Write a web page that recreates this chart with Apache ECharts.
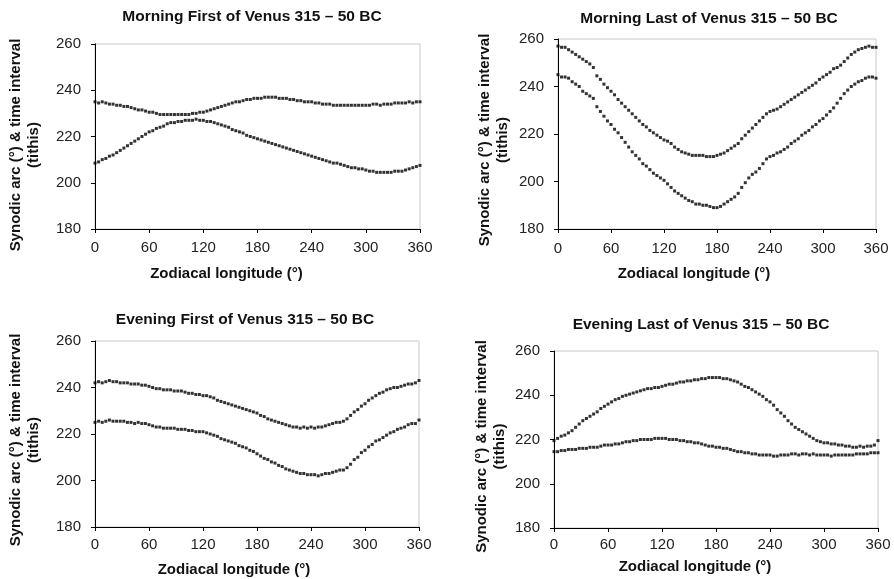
<!DOCTYPE html>
<html>
<head>
<meta charset="utf-8">
<script src="https://cdn.jsdelivr.net/npm/echarts@6/dist/echarts.min.js"></script>
<style>
  html, body { margin: 0; padding: 0; background: #fff; }
  #chart { width: 894px; height: 579px; }
</style>
</head>
<body>
<div id="chart"></div>
<script>
// Zodiacal longitude of each sample (degrees)
const longitude = [
  0, 4, 8, 12, 16, 20, 24, 28, 32, 36,
  40, 44, 48, 52, 56, 60, 64, 68, 72, 76,
  80, 84, 88, 92, 96, 100, 104, 108, 112, 116,
  120, 124, 128, 132, 136, 140, 144, 148, 152, 156,
  160, 164, 168, 172, 176, 180, 184, 188, 192, 196,
  200, 204, 208, 212, 216, 220, 224, 228, 232, 236,
  240, 244, 248, 252, 256, 260, 264, 268, 272, 276,
  280, 284, 288, 292, 296, 300, 304, 308, 312, 316,
  320, 324, 328, 332, 336, 340, 344, 348, 352, 356,
  360
];

// Morning First
const morningFirstUpper = [
  235, 234.5, 235, 234.5, 234, 234, 233.5, 233.5, 233, 233,
  232.5, 232, 231.5, 231.5, 231, 230.5, 230.5, 230, 229.5, 229.5,
  229.5, 229.5, 229.5, 229.5, 229.5, 229.5, 229.5, 230, 230, 230.5,
  230.5, 231, 231.5, 232, 232.5, 233, 233.5, 234, 234.5, 235,
  235, 235.5, 236, 236, 236.5, 236.5, 236.5, 237, 237, 237,
  237, 236.5, 236.5, 236.5, 236, 236, 235.5, 235.5, 235, 235,
  235, 234.5, 234.5, 234, 234, 234, 233.5, 233.5, 233.5, 233.5,
  233.5, 233.5, 233.5, 233.5, 233.5, 233.5, 233.5, 234, 234, 233.5,
  234, 234, 234, 234.5, 234.5, 234.5, 234.5, 235, 234.5, 235,
  235
];
const morningFirstLower = [
  208.5, 209, 210, 210.5, 211.5, 212, 213, 214, 215, 216,
  217, 218, 219, 220, 221, 222, 222.5, 223.5, 224, 224.5,
  225.5, 226, 226, 226.5, 226.5, 227, 227, 227, 227.5, 227,
  227, 226.5, 226.5, 226, 225.5, 225, 224.5, 224, 223, 222.5,
  222, 221.5, 220.5, 220, 219.5, 219, 218.5, 218, 217.5, 217,
  216.5, 216, 215.5, 215, 214.5, 214, 213.5, 213, 212.5, 212,
  211.5, 211, 210.5, 210, 209.5, 209, 208.5, 208.5, 208, 207.5,
  207, 206.5, 206.5, 206, 206, 205.5, 205, 205, 204.5, 204.5,
  204.5, 204.5, 204.5, 205, 205, 205, 205.5, 206, 206.5, 207,
  207.5
];

// Morning Last
const morningLastUpper = [
  257, 256.5, 256.5, 255.5, 254.5, 253.5, 252.5, 251.5, 250.5, 249.5,
  248, 244.5, 243, 241, 239.5, 238, 236.5, 234.5, 233, 231.5,
  230, 228.5, 227, 225.5, 224, 223, 221.5, 220.5, 219.5, 218.5,
  217.5, 217, 216, 214.5, 213.5, 212.5, 212, 211.5, 211, 211,
  211, 211, 210.5, 210.5, 210.5, 211, 211.5, 212, 213, 214,
  215, 216, 218, 219.5, 221, 222.5, 224, 225.5, 227, 228.5,
  229.5, 230, 230.5, 231.5, 232.5, 233.5, 234.5, 235.5, 236.5, 237.5,
  238.5, 239.5, 240.5, 241.5, 243, 244, 245, 246, 247.5, 248,
  249, 250.5, 252, 253.5, 254.5, 255.5, 256, 256.5, 257, 256.5,
  256.5
];
const morningLastLower = [
  245, 244, 244, 243.5, 242, 241, 240, 238, 237, 236,
  235, 231.5, 229.5, 227.5, 225.5, 224, 222, 220.5, 218.5, 216.5,
  214.5, 212.5, 211, 209.5, 207.5, 206.5, 205, 203.5, 202.5, 201.5,
  200.5, 199, 197.5, 196, 195, 194, 193, 192, 191.5, 190.5,
  190.5, 190, 190, 189.5, 189, 189, 189.5, 190.5, 191.5, 192.5,
  193.5, 195, 197.5, 199.5, 201.5, 203, 204, 205.5, 207.5, 209.5,
  210.5, 211, 212, 212.5, 213.5, 214.5, 216, 217, 218, 219.5,
  220.5, 221.5, 223, 224, 225.5, 226.5, 228, 229.5, 231, 233,
  235, 237, 238.5, 240, 241, 242, 242.5, 243.5, 244, 244,
  243.5
];

// Evening First
const eveningFirstUpper = [
  242, 242.5, 242, 242.5, 243, 242.5, 242.5, 242, 242, 242,
  241.5, 241.5, 241.5, 241, 241, 240.5, 240, 239.5, 239.5, 239,
  239, 239, 238.5, 238.5, 238.5, 238, 237.5, 237.5, 237, 237,
  236.5, 236.5, 236, 235.5, 234.5, 234, 233.5, 233, 232.5, 232,
  231.5, 231, 230.5, 230, 229.5, 229, 228, 227.5, 226.5, 226,
  225.5, 225, 224.5, 224, 223.5, 223, 223, 222.5, 223, 222.5,
  223, 222.5, 223, 223, 223.5, 224, 224.5, 225, 225, 225.5,
  226.5, 228, 229.5, 230.5, 232, 233, 234.5, 235.5, 236.5, 237.5,
  238, 239, 239.5, 240, 240, 240.5, 241, 241.5, 241.5, 242,
  243
];
const eveningFirstLower = [
  225, 225.5, 225, 225.5, 226, 225.5, 225.5, 225.5, 225.5, 225,
  225, 224.5, 225, 224.5, 224.5, 224, 223.5, 223, 223, 222.5,
  222.5, 222.5, 222.5, 222, 222, 222, 221.5, 221.5, 221, 221,
  221, 220.5, 220, 219.5, 219, 218, 217.5, 217, 216.5, 216,
  215, 214.5, 214, 213, 212.5, 211.5, 210.5, 209.5, 209, 208,
  207.5, 206.5, 206, 205, 204.5, 204, 203.5, 203, 203, 202.5,
  202.5, 202.5, 202, 202.5, 203, 203, 203.5, 204, 204.5, 204.5,
  205.5, 207, 209, 210, 212, 213, 214.5, 215.5, 217, 217.5,
  218.5, 219.5, 220.5, 221, 222, 222.5, 223, 224, 224.5, 224.5,
  226
];

// Evening Last
const eveningLastUpper = [
  219.5, 220.5, 221.5, 222, 223, 224, 225.5, 227, 228.5, 229.5,
  230.5, 231.5, 232.5, 234, 235, 236, 237, 238, 238.5, 239.5,
  240, 240.5, 241, 241.5, 242, 242.5, 243, 243, 243.5, 243.5,
  244, 244.5, 245, 245, 245.5, 246, 246, 246.5, 246.5, 247,
  247, 247.5, 247.5, 248, 248, 248, 248, 247.5, 247.5, 247,
  246.5, 246, 245, 244, 243.5, 242.5, 241.5, 240.5, 239.5, 238,
  237, 235.5, 233.5, 232, 230.5, 228.5, 227, 225.5, 224.5, 223.5,
  222.5, 221.5, 220.5, 219.5, 219, 218.5, 218.5, 218, 218, 217.5,
  217.5, 217, 217, 216.5, 216.5, 217, 216.5, 217, 217, 217.5,
  219.5
];
const eveningLastLower = [
  214.5, 214.5, 215, 215, 215.5, 215.5, 215.5, 216, 216, 216,
  216.5, 216.5, 216.5, 217, 217.5, 217.5, 217.5, 218, 218, 218.5,
  219, 219, 219.5, 219.5, 220, 220, 220, 220, 220.5, 220.5,
  220.5, 220.5, 220, 220, 220, 219.5, 219.5, 219, 219, 218.5,
  218.5, 218, 217.5, 217, 217, 216.5, 216.5, 216, 216, 215.5,
  215, 214.5, 214.5, 214, 214, 213.5, 213.5, 213, 213, 213,
  213, 212.5, 212.5, 213, 213, 213, 213.5, 213.5, 213, 213.5,
  213.5, 213, 213.5, 213, 213, 213, 213, 212.5, 213, 213,
  213, 213, 213, 213, 213.5, 213.5, 213.5, 213.5, 214, 214,
  214
];

const xTicks = ['0', '60', '120', '180', '240', '300', '360'];
const yTicks = ['180', '200', '220', '240', '260'];

const titles = [
  'Morning First of Venus 315 \u2013 50 BC',
  'Morning Last of Venus 315 \u2013 50 BC',
  'Evening First of Venus 315 \u2013 50 BC',
  'Evening Last of Venus 315 \u2013 50 BC'
];

const panels = [
  { upper: morningFirstUpper, lower: morningFirstLower },
  { upper: morningLastUpper, lower: morningLastLower },
  { upper: eveningFirstUpper, lower: eveningFirstLower },
  { upper: eveningLastUpper, lower: eveningLastLower }
];

const chart = echarts.init(document.getElementById('chart'));
const font = 'Arial, "Liberation Sans", sans-serif';

const grids = [
  { left: 95, top: 44, width: 325, height: 185 },
  { left: 558, top: 39, width: 318, height: 190 },
  { left: 95, top: 341, width: 324, height: 186 },
  { left: 554, top: 351, width: 324, height: 177 }
];
const titlePos = [[247, 4], [704, 6], [240, 307], [696, 312]];
const yNameShift = [17, 12, 12, 14];
const yNameGap = [52, 46, 52, 45];
const xNameShift = [62, 46, 46, 42];
const xNameGap = [37, 37, 35, 31];
const xLabelMargin = [11, 12, 10, 9];

function pairs(ys) {
  return longitude.map((x, i) => [x, ys[i]]);
}

const option = {
  animation: false,
  backgroundColor: '#fff',
  title: titles.map((t, i) => ({
    text: t,
    left: titlePos[i][0],
    top: titlePos[i][1],
    textAlign: 'center',
    textStyle: { fontFamily: font, fontSize: 15.5, fontWeight: 'bold', color: '#111' }
  })),
  grid: grids.map(g => ({
    left: g.left, top: g.top, width: g.width, height: g.height,
    show: true, borderColor: '#c8c8c8', borderWidth: 1, backgroundColor: '#fff'
  })),
  xAxis: grids.map((g, i) => ({
    gridIndex: i,
    type: 'value',
    min: 0, max: 360, interval: 60,
    name: 'Zodiacal longitude (\u00b0)',
    nameLocation: 'middle',
    nameGap: xNameGap[i],
    nameTextStyle: {
      fontFamily: font, fontSize: 15, fontWeight: 'bold', color: '#111',
      padding: [0, xNameShift[i], 0, 0]
    },
    axisLine: { lineStyle: { color: '#000', width: 1 } },
    axisTick: { show: true, length: 4, lineStyle: { color: '#000' } },
    axisLabel: {
      fontFamily: font, fontSize: 15, color: '#222', margin: xLabelMargin[i],
      formatter: v => xTicks[v / 60]
    },
    splitLine: { show: false }
  })),
  yAxis: grids.map((g, i) => ({
    gridIndex: i,
    type: 'value',
    min: 180, max: 260, interval: 20,
    name: 'Synodic arc (\u00b0) & time interval\n(tithis)',
    nameLocation: 'middle',
    nameRotate: 90,
    nameGap: yNameGap[i],
    nameTextStyle: {
      fontFamily: font, fontSize: 15, fontWeight: 'bold', color: '#111',
      lineHeight: 18, align: 'center',
      padding: [0, yNameShift[i], 0, 0]
    },
    axisLine: { show: true, lineStyle: { color: '#000', width: 1 } },
    axisTick: { show: true, length: 4, lineStyle: { color: '#000' } },
    axisLabel: {
      fontFamily: font, fontSize: 15, color: '#222', margin: 14,
      formatter: v => yTicks[(v - 180) / 20]
    },
    splitLine: { show: false }
  })),
  series: []
};

panels.forEach((p, i) => {
  [p.upper, p.lower].forEach(ys => {
    option.series.push({
      type: 'scatter',
      xAxisIndex: i,
      yAxisIndex: i,
      symbol: 'rect',
      symbolSize: [3, 3],
      itemStyle: { color: '#000' },
      data: pairs(ys)
    });
  });
});

chart.setOption(option);
</script>
</body>
</html>
